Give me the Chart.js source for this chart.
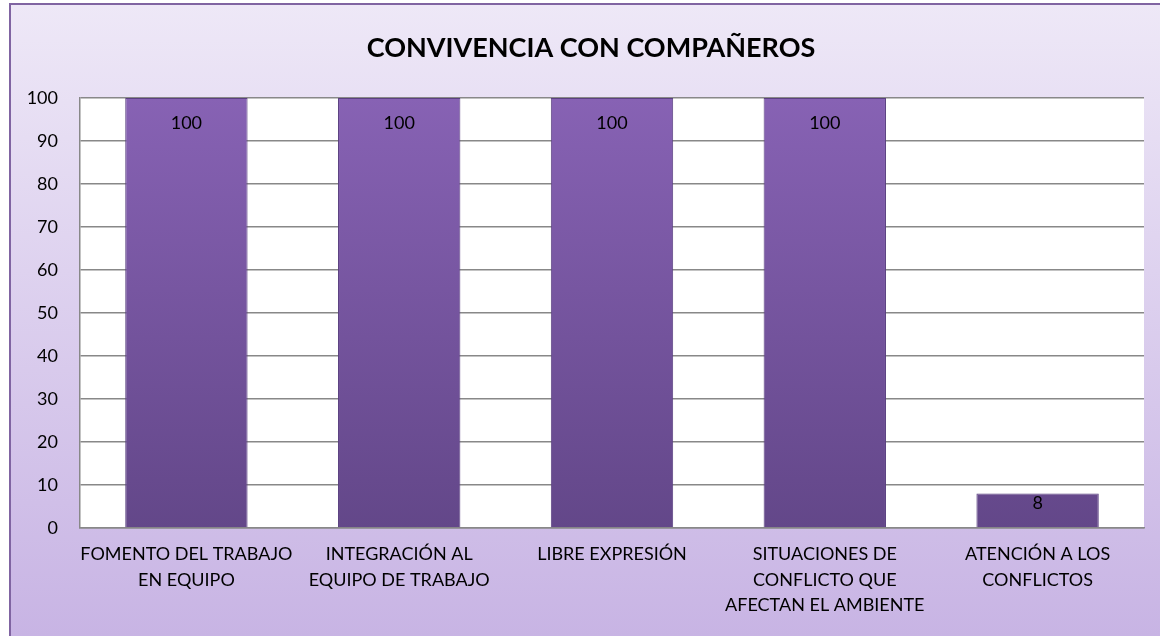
<!DOCTYPE html>
<html>
<head>
<meta charset="utf-8">
<script src="https://cdn.jsdelivr.net/npm/chart.js@4/dist/chart.umd.min.js"></script>
<style>
  html, body { margin: 0; padding: 0; background: #fff; }
  #wrap { width: 1160px; height: 636px; }
</style>
</head>
<body>
<div id="wrap"><canvas id="myChart" width="1160" height="636"></canvas></div>
<script>
const chartTitle = "CONVIVENCIA CON COMPAÑEROS";
const categories = [
  ["FOMENTO DEL TRABAJO", "EN EQUIPO"],
  ["INTEGRACIÓN AL", "EQUIPO DE TRABAJO"],
  ["LIBRE EXPRESIÓN"],
  ["SITUACIONES DE", "CONFLICTO QUE", "AFECTAN EL AMBIENTE"],
  ["ATENCIÓN A LOS", "CONFLICTOS"]
];
const values = [100, 100, 100, 100, 8];
const yTicks = [0, 10, 20, 30, 40, 50, 60, 70, 80, 90, 100];

const fontFamily = "Lato, 'Open Sans', sans-serif";

// Outer frame with a soft purple gradient, and the white plot area
const backgroundPlugin = {
  id: "background",
  afterLayout(chart) {
    // the frame runs past the right edge, so centre the title on the whole frame
    if (chart.titleBlock) chart.titleBlock.left = 38;
  },
  beforeDraw(chart) {
    const ctx = chart.ctx;
    const area = chart.chartArea;
    ctx.save();
    const grad = ctx.createLinearGradient(0, 4, 0, 636);
    grad.addColorStop(0, "#eee8f7");
    grad.addColorStop(1, "#c8b4e4");
    ctx.fillStyle = grad;
    ctx.fillRect(10, 4, 1160, 640);
    ctx.strokeStyle = "#8064a2";
    ctx.lineWidth = 2;
    ctx.strokeRect(10, 4, 1160, 640);
    ctx.fillStyle = "#ffffff";
    ctx.fillRect(area.left, area.top, area.right - area.left, area.bottom - area.top);
    ctx.restore();
  }
};

// Value labels drawn inside the top of each bar
const valueLabelPlugin = {
  id: "valueLabels",
  afterDatasetsDraw(chart) {
    const ctx = chart.ctx;
    const meta = chart.getDatasetMeta(0);
    ctx.save();
    ctx.font = "18px " + fontFamily;
    ctx.fillStyle = "#000";
    ctx.textAlign = "center";
    ctx.textBaseline = "middle";
    meta.data.forEach((bar, i) => {
      const h = bar.base - bar.y;
      const offset = Math.min(25, h / 2 - 7);
      ctx.fillText(values[i], bar.x, bar.y + offset);
    });
    ctx.restore();
  }
};

const ctx = document.getElementById("myChart").getContext("2d");

function barGradient(context) {
  const chart = context.chart;
  const area = chart.chartArea;
  if (!area) return "#7a58a8";
  const g = chart.ctx.createLinearGradient(0, area.top, 0, area.bottom);
  g.addColorStop(0, "#8762b4");
  g.addColorStop(1, "#634789");
  return g;
}

new Chart(ctx, {
  type: "bar",
  data: {
    labels: categories,
    datasets: [
      {
        data: values,
        backgroundColor: barGradient,
        borderColor: "#5a4080",
        borderWidth: 1,
        borderSkipped: "bottom",
        categoryPercentage: 1,
        barPercentage: 0.575
      }
    ]
  },
  options: {
    responsive: false,
    animation: false,
    layout: { padding: { left: 10, right: 16, top: 0, bottom: 0 } },
    plugins: {
      legend: { display: false },
      tooltip: { enabled: false },
      title: {
        display: true,
        text: chartTitle,
        color: "#000",
        font: { family: fontFamily, size: 27, weight: "bold", lineHeight: 1.1 },
        padding: { top: 33, bottom: 35.3 }
      }
    },
    scales: {
      x: {
        grid: { display: false, drawTicks: false },
        border: { display: true, color: "#888", width: 1.5 },
        ticks: {
          color: "#000",
          font: { family: fontFamily, size: 18, lineHeight: 1.4 },
          padding: 14,
          maxRotation: 0,
          autoSkip: false
        },
        afterFit(scale) { scale.height = 108; }
      },
      y: {
        min: 0,
        max: 100,
        afterBuildTicks(scale) { scale.ticks = yTicks.map(v => ({ value: v })); },
        grid: { color: "#888", lineWidth: 1.5, drawTicks: false },
        border: { display: true, color: "#888", width: 1.5 },
        ticks: {
          color: "#000",
          font: { family: fontFamily, size: 18 },
          padding: 22
        },
        afterFit(scale) { scale.width = 70; }
      }
    }
  },
  plugins: [backgroundPlugin, valueLabelPlugin]
});
</script>
</body>
</html>
